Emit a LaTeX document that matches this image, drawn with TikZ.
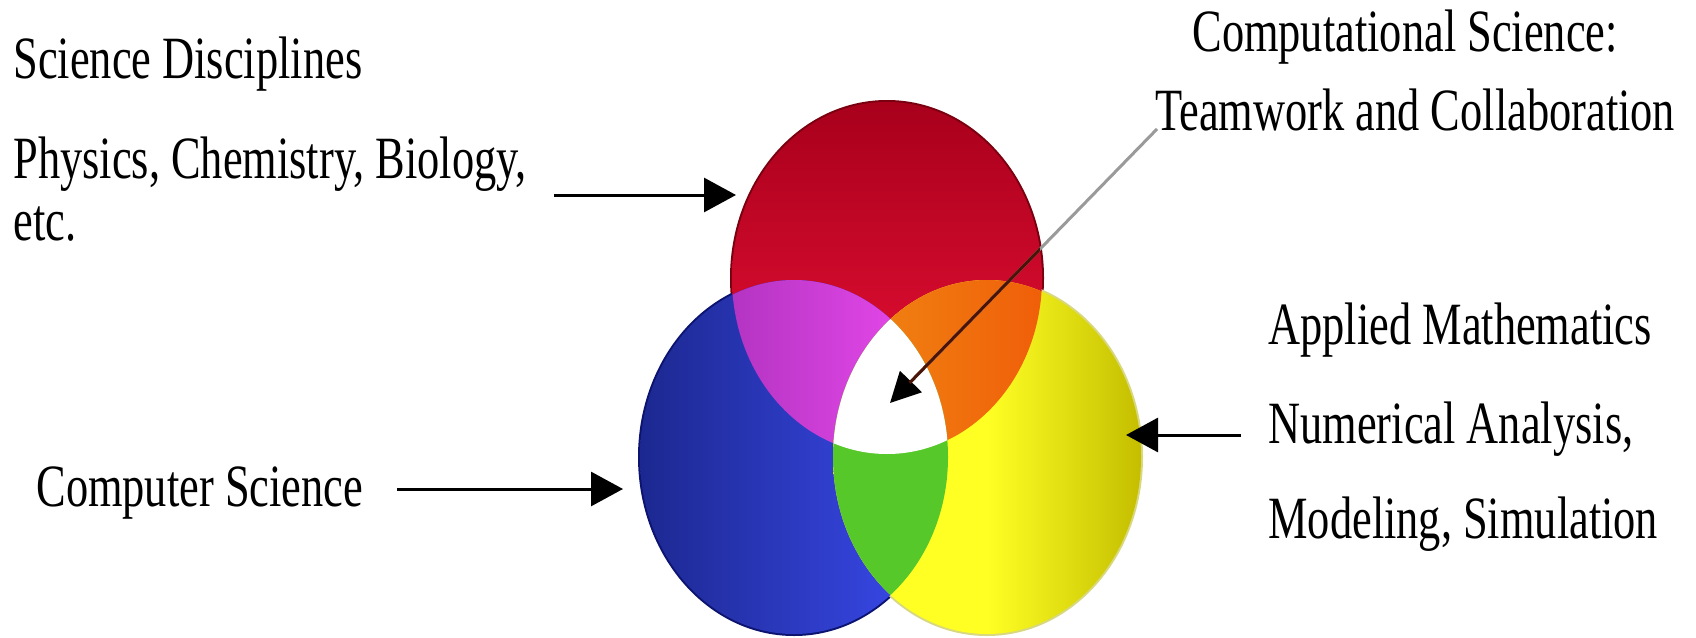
\documentclass[tikz,border=0pt]{standalone}
\usepackage{fontspec}
\setmainfont{Liberation Serif}[FakeStretch=0.74]
\usetikzlibrary{arrows.meta}
\definecolor{redA}{HTML}{A8001C}
\definecolor{redB}{HTML}{F01238}
\definecolor{redEdge}{HTML}{7A0010}
\definecolor{blueA}{HTML}{1C2890}
\definecolor{blueB}{HTML}{3C4CF2}
\definecolor{blueEdge}{HTML}{0C1470}
\definecolor{yelA}{HTML}{FFFF24}
\definecolor{yelB}{HTML}{C4BE00}
\definecolor{yelEdge}{HTML}{D8D880}
\definecolor{purA}{HTML}{9A2AAE}
\definecolor{purB}{HTML}{F04CF2}
\definecolor{oraA}{HTML}{F08A14}
\definecolor{oraB}{HTML}{F04A04}
\definecolor{grnA}{HTML}{56C82A}
\definecolor{lineGray}{HTML}{9A9A9A}
\definecolor{lineDark}{HTML}{4A1408}
\tikzset{
  redpath/.style={insert path={(887,278) ellipse [x radius=155, y radius=176]}},
  bluepath/.style={insert path={(794,457) ellipse [x radius=154, y radius=177]}},
  yelpath/.style={insert path={(987,457) ellipse [x radius=154, y radius=177]}},
  lbl/.style={anchor=base west, inner sep=0pt, font=\fontsize{30}{34}\selectfont},
  arr/.style={line width=1.5pt, -{Triangle[length=16pt,width=17pt]}},
}
\begin{document}
\begin{tikzpicture}[x=0.5pt,y=-0.5pt]
\useasboundingbox (0,0) rectangle (1696,637);
\fill[white] (0,0) rectangle (1696,637);

% outer edges
\draw[line width=2pt, redEdge, redpath];
\draw[line width=2pt, blueEdge, bluepath];
\draw[line width=2pt, yelEdge, yelpath];

% main discs
\shade[top color=redA, bottom color=redB, redpath];
\shade[left color=blueA, right color=blueB, bluepath];
\shade[left color=yelA, right color=yelB, middle color=yelA, yelpath];

% red & blue: purple
\begin{scope}
  \clip[redpath];
  \shade[left color=purA, right color=purB, bluepath];
\end{scope}
% red & yellow: orange
\begin{scope}
  \clip[redpath];
  \shade[left color=oraA, right color=oraB, yelpath];
\end{scope}
% blue & yellow: green
\begin{scope}
  \clip[bluepath];
  \fill[grnA, yelpath];
\end{scope}
% all three: white
\begin{scope}
  \clip[redpath];
  \clip[bluepath];
  \fill[white, yelpath];
\end{scope}

% labels
\node[lbl] (sd)  at (13,78)   {Science Disciplines};
\node[lbl] (pcb) at (13,178)  {Physics, Chemistry, Biology,};
\node[lbl] (etc) at (13,240)  {etc.};
\node[lbl] (cs)  at (36,506)  {Computer Science};
\node[lbl] (csc) at (1192,51) {Computational Science:};
\node[lbl] (tc)  at (1155,130){Teamwork and Collaboration};
\node[lbl] (am)  at (1268,344){Applied Mathematics};
\node[lbl] (na)  at (1268,443){Numerical Analysis,};
\node[lbl] (ms)  at (1268,538){Modeling, Simulation};

% arrow ends
\coordinate (sciS) at (554,195);
\coordinate (sciT) at (736,195);
\coordinate (csS)  at (397,489);
\coordinate (csT)  at (623,489);
\coordinate (amS)  at (1241,435);
\coordinate (amT)  at (1126,435);
\coordinate (tcS)  at (1157,129);
\coordinate (tcT)  at (890,403);

\draw[arr] (sciS) -- (sciT);
\draw[arr] (csS) -- (csT);
\draw[arr] (amS) -- (amT);
\draw[line width=1.5pt, lineGray, -{Triangle[length=15pt,width=15pt,color=black]}] (tcS) -- (tcT);
\begin{scope}
  \clip[redpath];
  \draw[line width=1.5pt, lineDark, shorten >=14pt] (tcS) -- (tcT);
\end{scope}
\end{tikzpicture}
\end{document}
